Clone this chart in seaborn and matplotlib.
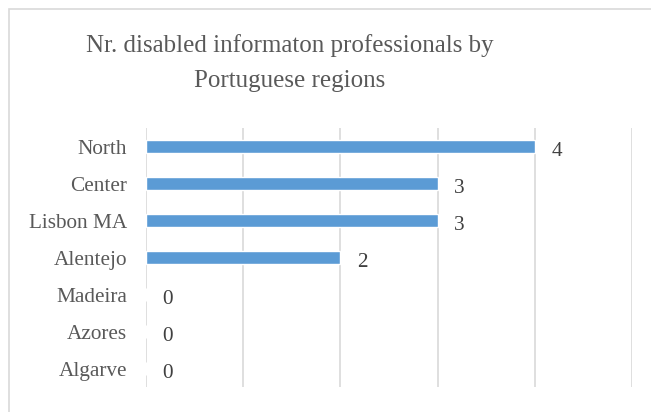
import matplotlib
matplotlib.use("Agg")
import matplotlib.pyplot as plt
import seaborn as sns
import pandas as pd
from matplotlib.patches import Rectangle

regions = ["North", "Center", "Lisbon MA", "Alentejo", "Madeira", "Azores", "Algarve"]
counts = [4, 3, 3, 2, 0, 0, 0]
title = "Nr. disabled informaton professionals by\nPortuguese regions"

sns.set_theme(style="white")
plt.rcParams['font.family'] = ['Liberation Serif', 'DejaVu Serif']

df = pd.DataFrame({"region": regions, "count": counts})

W, H = 651, 412
fig = plt.figure(figsize=(W / 100, H / 100), dpi=100)
ax = fig.add_axes([146 / W, 1 - 387 / H, (632 - 146) / W, (387 - 128) / H])

sns.barplot(data=df, y="region", x="count", orient="h", color="#5B9BD5",
            width=0.35, saturation=1, ax=ax, order=regions)

ax.set_xlim(0, 5)
ax.set_xticks(range(0, 6))
ax.set_xticklabels([])
ax.tick_params(axis="x", length=0)
ax.tick_params(axis="y", length=0, labelsize=15.3, labelcolor="#595959", pad=13.5)
ax.grid(axis="x", color="#D9D9D9", linewidth=1.2)
ax.set_axisbelow(True)
for s in ax.spines.values():
    s.set_visible(False)
ax.set_xlabel("")
ax.set_ylabel("")

for i, v in enumerate(counts):
    ax.annotate(str(v), xy=(v, i), xytext=(12, -3.5), textcoords="offset points",
                va="center", ha="left", fontsize=15.3, color="#404040")

fig.text(289.5 / W, 1 - 63 / H, title, ha="center", va="center",
         fontsize=18, color="#595959", linespacing=1.75)

fig.patches.append(Rectangle((9 / W, -0.1), 1, 1.1 - 9 / H, transform=fig.transFigure,
                             fill=False, edgecolor="#D9D9D9", linewidth=1.2))

fig.savefig("out.png", dpi=100)
